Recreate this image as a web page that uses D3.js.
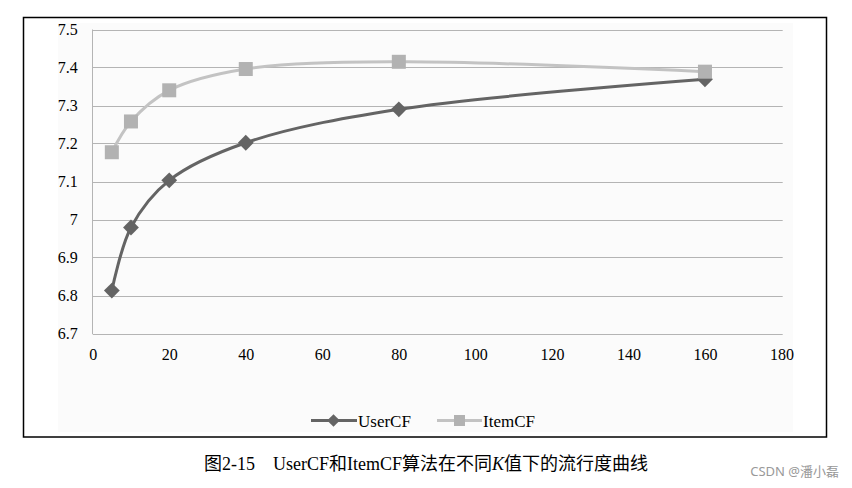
<!DOCTYPE html>
<html><head><meta charset="utf-8">
<script src="https://cdn.jsdelivr.net/npm/d3@7/dist/d3.min.js"></script>
<style>body{margin:0;background:#fff}svg{display:block}</style>
</head><body>
<svg id="c" width="852" height="488"></svg>
<script>
const kValues = [5, 10, 20, 40, 80, 160];
const userCF = [6.813, 6.979, 7.103, 7.202, 7.290, 7.369];
const itemCF = [7.177, 7.258, 7.340, 7.396, 7.415, 7.389];
const xTicks = [0, 20, 40, 60, 80, 100, 120, 140, 160, 180];
const yTicks = [6.7, 6.8, 6.9, 7, 7.1, 7.2, 7.3, 7.4, 7.5];
const seriesNames = ["UserCF", "ItemCF"];

const svg = d3.select("#c");
const serif = "'Liberation Serif','Times New Roman',serif";
const cjk = "'Liberation Serif','Noto Sans CJK SC',serif";

svg.append("rect").attr("x",23.5).attr("y",17.5).attr("width",803).attr("height",419.5)
  .attr("fill","#fff").attr("stroke","#000").attr("stroke-width",1.5);
svg.append("rect").attr("x",58).attr("y",23).attr("width",735).attr("height",409).attr("fill","#fbfbfb");

const x = d3.scaleLinear().domain([0,180]).range([92.7,781.5]);
const y = d3.scaleLinear().domain([6.7,7.5]).range([333.5,29.5]);

const g = svg.append("g");
g.selectAll("line.grid").data(yTicks).enter().append("line")
  .attr("x1",x(0)).attr("x2",782.7).attr("y1",d=>Math.round(y(d))+0.5).attr("y2",d=>Math.round(y(d))+0.5)
  .attr("stroke","#b4b4b4").attr("stroke-width",1);
g.append("line").attr("x1",92.5).attr("x2",92.5).attr("y1",y(7.5)).attr("y2",y(6.7)+0.5)
  .attr("stroke","#b4b4b4");

const yAxis = d3.axisLeft(y).tickValues(yTicks).tickSize(0).tickPadding(15).tickFormat(d=>String(d));
const ya = svg.append("g").attr("transform",`translate(${x(0)},0)`).call(yAxis);
ya.select(".domain").remove();
ya.selectAll("text").attr("font-family",serif).attr("font-size",16).attr("fill","#000");

const xAxis = d3.axisBottom(x).tickValues(xTicks).tickSize(0).tickPadding(15).tickFormat(d=>String(d));
const xa = svg.append("g").attr("transform",`translate(0,${y(6.7)})`).call(xAxis);
xa.select(".domain").remove();
xa.selectAll("text").attr("font-family",serif).attr("font-size",16).attr("fill","#000");

const line = d3.line().curve(d3.curveCatmullRom.alpha(0.5)).x(d=>x(d[0])).y(d=>y(d[1]));
const itemPts = kValues.map((k,i)=>[k,itemCF[i]]);
const userPts = kValues.map((k,i)=>[k,userCF[i]]);

svg.append("path").attr("d",line(itemPts)).attr("fill","none").attr("stroke","#c3c3c3").attr("stroke-width",3);
svg.append("path").attr("d",line(userPts)).attr("fill","none").attr("stroke","#646464").attr("stroke-width",3);

const diamond = d3.symbol().type(d3.symbolSquare).size(125);
svg.selectAll("path.ud").data(userPts).enter().append("path")
  .attr("d",diamond).attr("transform",d=>`translate(${x(d[0])},${y(d[1])}) rotate(45)`).attr("fill","#646464");
svg.selectAll("rect.im").data(itemPts).enter().append("rect")
  .attr("x",d=>x(d[0])-7).attr("y",d=>y(d[1])-7).attr("width",14).attr("height",14).attr("fill","#b2b2b2");

// legend
const lg = svg.append("g");
lg.append("line").attr("x1",311).attr("x2",357).attr("y1",420.5).attr("y2",420.5).attr("stroke","#646464").attr("stroke-width",3);
lg.append("path").attr("d",d3.symbol().type(d3.symbolSquare).size(80)).attr("transform","translate(333.5,420.5) rotate(45)").attr("fill","#646464");
lg.append("text").attr("x",358).attr("y",426.5).text(seriesNames[0]).attr("font-family",serif).attr("font-size",17);
lg.append("line").attr("x1",437).attr("x2",482).attr("y1",420.5).attr("y2",420.5).attr("stroke","#c3c3c3").attr("stroke-width",3);
lg.append("rect").attr("x",454).attr("y",415).attr("width",11).attr("height",11).attr("fill","#b2b2b2");
lg.append("text").attr("x",483).attr("y",426.5).text(seriesNames[1]).attr("font-family",serif).attr("font-size",17);

// caption
const cap = svg.append("text").attr("y",470).attr("font-family",cjk).attr("font-size",18).attr("fill","#000");
cap.append("tspan").attr("x",204).text("图");
cap.append("tspan").text("2-15");
cap.append("tspan").attr("x",273).text("UserCF");
cap.append("tspan").text("和");
cap.append("tspan").text("ItemCF");
cap.append("tspan").text("算法在不同");
cap.append("tspan").attr("font-style","italic").text("K");
cap.append("tspan").text("值下的流行度曲线");

svg.append("text").attr("x",839).attr("y",476).attr("text-anchor","end").attr("font-family","'Noto Sans','Noto Sans CJK SC',sans-serif")
  .attr("font-size",13).attr("fill","#999").text("CSDN @潘小磊");
</script>
</body></html>
